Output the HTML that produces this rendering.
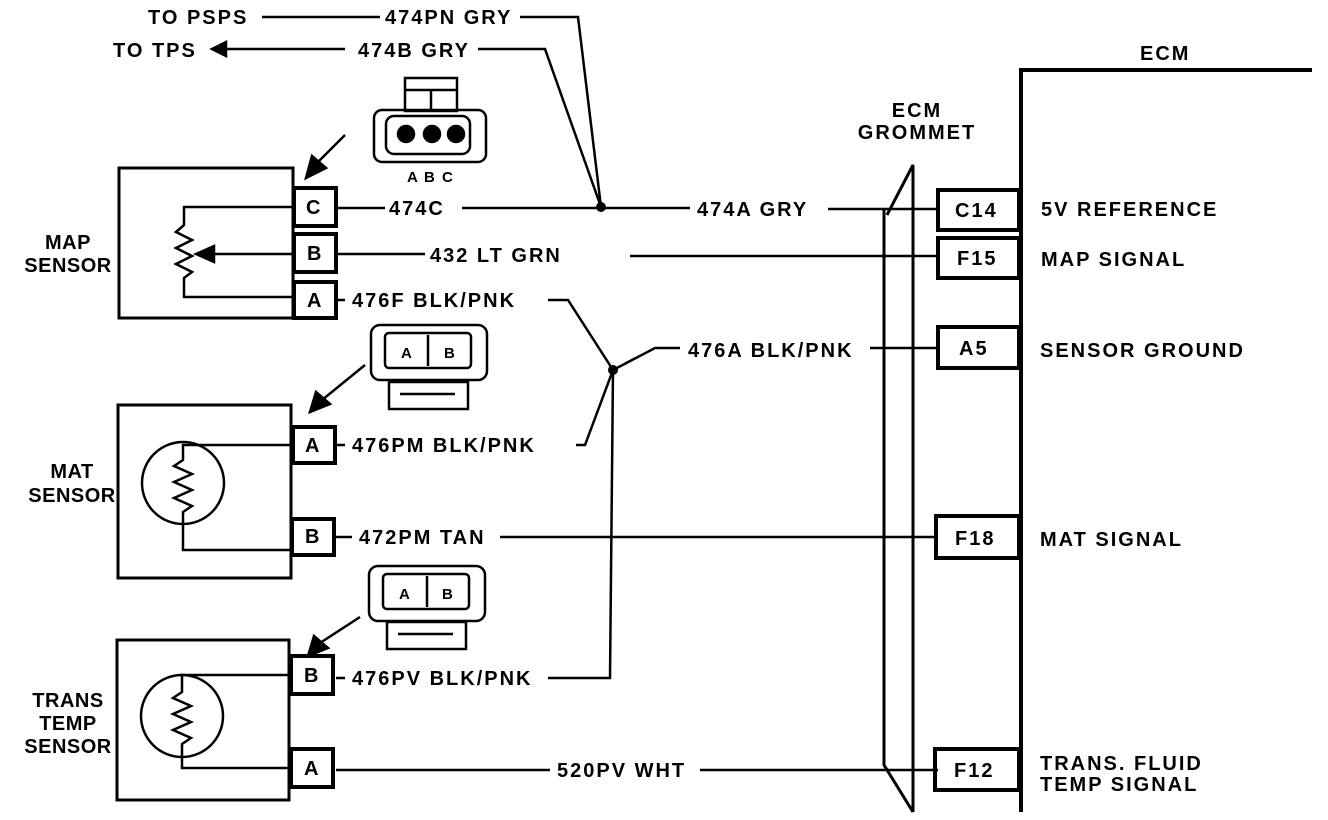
<!DOCTYPE html>
<html><head><meta charset="utf-8"><style>
html,body{margin:0;padding:0;background:#fff;}
svg{display:block;}
text{font-family:"Liberation Sans",Arial,sans-serif;font-weight:bold;fill:#000;}
</style></head><body>
<svg width="1328" height="820" viewBox="0 0 1328 820" xmlns="http://www.w3.org/2000/svg">
<g stroke="#000" fill="none" stroke-width="2.5">
<line x1="262" y1="17" x2="380" y2="17"/>
<polyline points="520,17 578,17 601,207"/>
<line x1="222" y1="49" x2="345" y2="49"/>
<polyline points="478,49 545,49 601,207"/>
<line x1="336" y1="208" x2="385" y2="208"/>
<line x1="462" y1="208" x2="690" y2="208"/>
<line x1="828" y1="209" x2="938" y2="209"/>
<line x1="336" y1="254" x2="425" y2="254"/>
<line x1="630" y1="256" x2="938" y2="256"/>
<line x1="336" y1="300" x2="345" y2="300"/>
<polyline points="548,300 568,300 613,370"/>
<polyline points="613,370 655,348 680,348"/>
<line x1="870" y1="348" x2="938" y2="348"/>
<line x1="336" y1="445" x2="345" y2="445"/>
<polyline points="576,445 585,445 613,370 610,678 548,678"/>
<line x1="336" y1="678" x2="345" y2="678"/>
<line x1="336" y1="537" x2="352" y2="537"/>
<line x1="500" y1="537" x2="938" y2="537"/>
<line x1="336" y1="770" x2="550" y2="770"/>
<line x1="700" y1="770" x2="938" y2="770"/>
<polyline points="887,215 913,165 913,812" stroke-width="3"/>
<polyline points="884,210 884,765 913,812" stroke-width="3"/>
<polyline points="1021,812 1021,70 1312,70" stroke-width="4"/>
<g stroke-width="4">
<rect x="938" y="190" width="81" height="40"/>
<rect x="938" y="238" width="81" height="40"/>
<rect x="938" y="327" width="81" height="41"/>
<rect x="936" y="516" width="83" height="42"/>
<rect x="935" y="749" width="84" height="41"/>
</g>
<rect x="119" y="168" width="174" height="150" stroke-width="3"/>
<g stroke-width="4">
<rect x="294" y="188" width="42" height="38"/>
<rect x="294" y="234" width="42" height="38"/>
<rect x="294" y="282" width="42" height="36"/>
</g>
<polyline points="294,207 184,207 184,225 176,232 192,240 176,248 192,256 176,264 192,272 184,278 184,297 294,297"/>
<line x1="294" y1="254" x2="212" y2="254"/>
<polygon points="196,254 214,246 214,262" fill="#000"/>
<rect x="118" y="405" width="173" height="173" stroke-width="3"/>
<g stroke-width="4">
<rect x="293" y="427" width="42" height="36"/>
<rect x="292" y="519" width="42" height="36"/>
</g>
<circle cx="183" cy="483" r="41"/>
<polyline points="291,445 183,445 183,460 174,466 192,474 174,482 192,490 174,498 192,506 183,512 183,550 291,550"/>
<rect x="117" y="640" width="172" height="160" stroke-width="3"/>
<g stroke-width="4">
<rect x="291" y="656" width="42" height="38"/>
<rect x="291" y="749" width="42" height="38"/>
</g>
<circle cx="182" cy="716" r="41"/>
<polyline points="289,675 182,675 182,692 173,698 191,706 173,714 191,722 173,730 191,738 182,744 182,768 289,768"/>
<line x1="345" y1="135" x2="318" y2="162"/>
<polygon points="306,178 312,156 326,168" fill="#000"/>
<line x1="365" y1="365" x2="322" y2="400"/>
<polygon points="310,412 316,392 330,404" fill="#000"/>
<line x1="360" y1="617" x2="320" y2="643"/>
<polygon points="308,656 314,636 328,648" fill="#000"/>
<polygon points="212,49 226,42 226,56" fill="#000"/>
<rect x="405" y="78" width="52" height="33"/>
<line x1="405" y1="90" x2="457" y2="90"/>
<line x1="431" y1="90" x2="431" y2="111"/>
<rect x="374" y="110" width="112" height="52" rx="8"/>
<rect x="386" y="116" width="84" height="38" rx="8"/>
<circle cx="406" cy="134" r="8" fill="#000"/>
<circle cx="432" cy="134" r="8" fill="#000"/>
<circle cx="456" cy="134" r="8" fill="#000"/>
<rect x="371" y="325" width="116" height="55" rx="9"/>
<rect x="385" y="333" width="86" height="35" rx="4"/>
<line x1="428" y1="335" x2="428" y2="366"/>
<rect x="389" y="382" width="79" height="27"/>
<line x1="400" y1="394" x2="455" y2="394"/>
<rect x="369" y="566" width="116" height="55" rx="9"/>
<rect x="383" y="574" width="86" height="35" rx="4"/>
<line x1="427" y1="576" x2="427" y2="607"/>
<rect x="387" y="622" width="79" height="27"/>
<line x1="398" y1="634" x2="453" y2="634"/>
</g>
<circle cx="601" cy="207" r="5" fill="#000"/>
<circle cx="613" cy="370" r="5" fill="#000"/>
<g font-size="20" letter-spacing="2">
<text x="148" y="24">TO PSPS</text>
<text x="385" y="24">474PN GRY</text>
<text x="113" y="57">TO TPS</text>
<text x="358" y="57">474B GRY</text>
<text x="389" y="215">474C</text>
<text x="697" y="216">474A GRY</text>
<text x="430" y="262">432 LT GRN</text>
<text x="352" y="307">476F BLK/PNK</text>
<text x="688" y="357">476A BLK/PNK</text>
<text x="352" y="452">476PM BLK/PNK</text>
<text x="359" y="544">472PM TAN</text>
<text x="352" y="685">476PV BLK/PNK</text>
<text x="557" y="777">520PV WHT</text>
<text x="1140" y="60">ECM</text>
<text x="1041" y="216">5V REFERENCE</text>
<text x="1041" y="266">MAP SIGNAL</text>
<text x="1040" y="357">SENSOR GROUND</text>
<text x="1040" y="546">MAT SIGNAL</text>
<text x="1040" y="770">TRANS. FLUID</text>
<text x="1040" y="791">TEMP SIGNAL</text>
<text x="955" y="217">C14</text>
<text x="957" y="265">F15</text>
<text x="959" y="355">A5</text>
<text x="955" y="545">F18</text>
<text x="954" y="777">F12</text>
<text x="306" y="214">C</text>
<text x="307" y="260">B</text>
<text x="307" y="307">A</text>
<text x="305" y="452">A</text>
<text x="305" y="543">B</text>
<text x="304" y="682">B</text>
<text x="304" y="775">A</text>
<text x="917" y="117" text-anchor="middle">ECM</text>
<text x="917" y="139" text-anchor="middle">GROMMET</text>
</g>
<g font-size="20" letter-spacing="0.5">
<text x="68" y="249" text-anchor="middle">MAP</text>
<text x="68" y="272" text-anchor="middle">SENSOR</text>
<text x="72" y="478" text-anchor="middle">MAT</text>
<text x="72" y="502" text-anchor="middle">SENSOR</text>
<text x="68" y="707" text-anchor="middle">TRANS</text>
<text x="68" y="730" text-anchor="middle">TEMP</text>
<text x="68" y="753" text-anchor="middle">SENSOR</text>
</g>
<g font-size="15">
<text x="407" y="182">A</text><text x="424" y="182">B</text><text x="442" y="182">C</text>
<text x="401" y="358">A</text><text x="444" y="358">B</text>
<text x="399" y="599">A</text><text x="442" y="599">B</text>
</g>
</svg>
</body></html>
